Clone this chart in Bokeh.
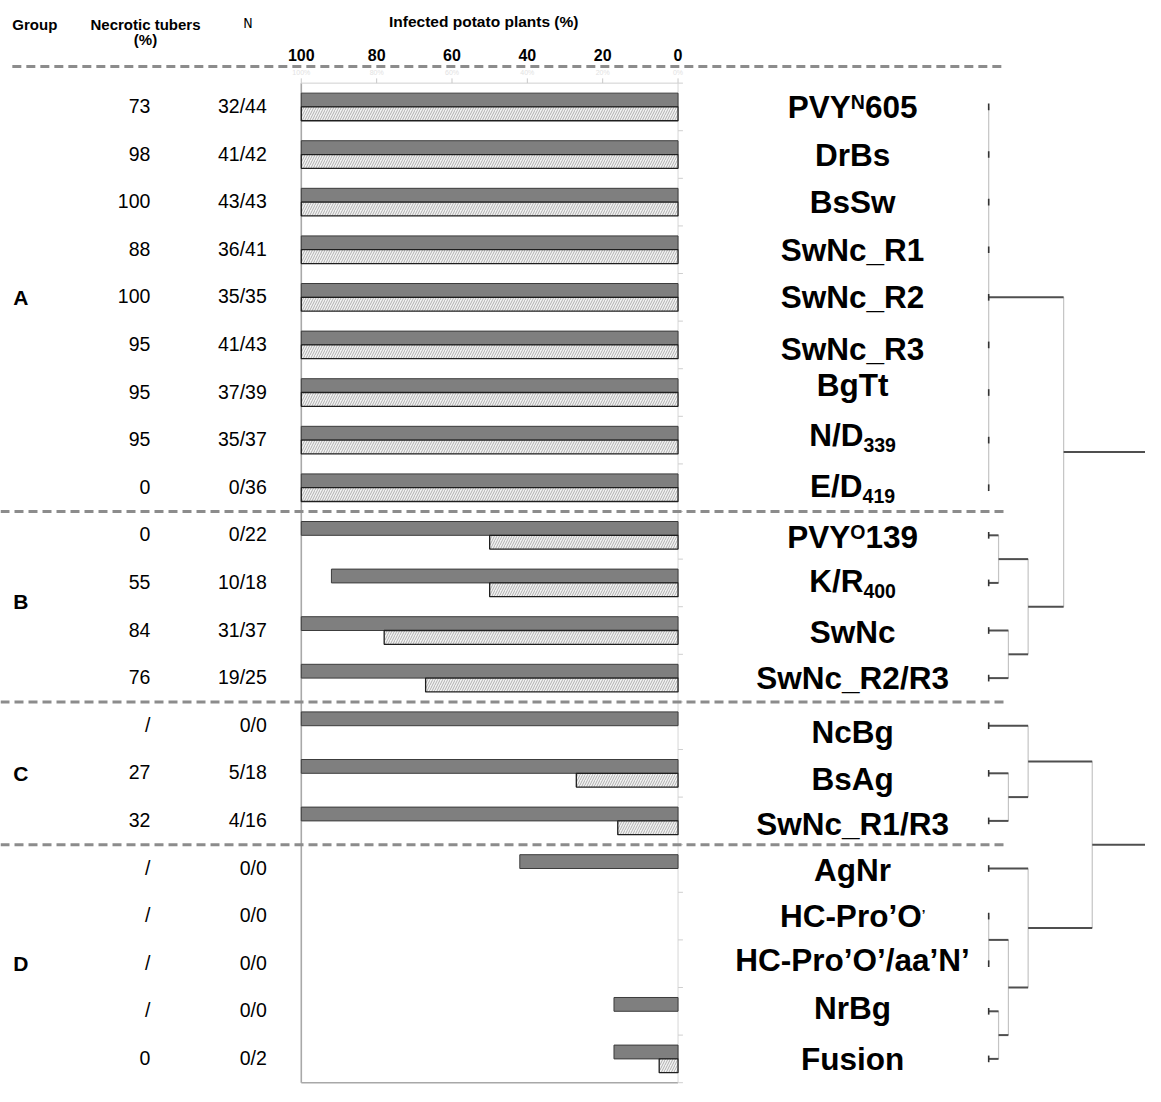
import numpy as np
from bokeh.plotting import figure
from bokeh.models import Range1d, ColumnDataSource
from bokeh.core.properties import value
from bokeh.embed import file_html
from bokeh.resources import INLINE

# ---------------- data ----------------
strains = ["PVY^{N}605", "DrBs", "BsSw", "SwNc_R1", "SwNc_R2", "SwNc_R3", "BgTt",
           "N/D_{339}", "E/D_{419}",
           "PVY^{O}139", "K/R_{400}", "SwNc", "SwNc_R2/R3",
           "NcBg", "BsAg", "SwNc_R1/R3",
           "AgNr", "HC-Pro\u2019O~{\u2019}", "HC-Pro\u2019O\u2019/aa\u2019N\u2019", "NrBg", "Fusion"]
group_names = ["A", "B", "C", "D"]
group_rows = [4, 10.4, 14, 18]          # row where each group letter sits
group_breaks = [8.5, 12.5, 15.5]        # separators between groups
necrotic = ["73", "98", "100", "88", "100", "95", "95", "95", "0",
            "0", "55", "84", "76",
            "/", "27", "32",
            "/", "/", "/", "/", "0"]
n_ratio = ["32/44", "41/42", "43/43", "36/41", "35/35", "41/43", "37/39", "35/37", "0/36",
           "0/22", "10/18", "31/37", "19/25",
           "0/0", "5/18", "4/16",
           "0/0", "0/0", "0/0", "0/0", "0/2"]
infected_dark = [100, 100, 100, 100, 100, 100, 100, 100, 100,
                 100, 92, 100, 100,
                 100, 100, 100,
                 42, 0, 0, 17, 17]
infected_hatched = [100, 100, 100, 100, 100, 100, 100, 100, 100,
                    50, 50, 78, 67,
                    0, 27, 16,
                    0, 0, 0, 0, 5]
x_ticks = [100, 80, 60, 40, 20, 0]
# dendrogram: (height, [children]) ; leaves are row indices
tree = (200, [
    (76, [(0, [0, 1, 2, 3, 4, 5, 6, 7, 8]),
          (40, [(10, [9, 10]), (20, [11, 12])])]),
    (105, [(40, [13, (20, [14, 15])]),
           (40, [16, (20, [(0, [17, 18]), (10, [19, 20])])])]),
])

# ---------------- layout helpers ----------------
FW, FH = 1145, 1086
SX = FW / 1161.0
ROWPX = 48.3
label_nudge = [0, 0, 0, 0, 0, 4, -8, -5, -2, 2, -2, 2, 0, 6, 6, 3, 2, 0, -4, -3, 0]

p = figure(width=FW, height=FH,
           x_range=Range1d(179.84, -124.08), y_range=Range1d(20.58, -2.236),
           output_backend="svg", toolbar_location=None, min_border=0,
           x_axis_location=None, y_axis_location=None, tools="")
p.outline_line_color = None
p.background_fill_color = "white"
p.border_fill_color = "white"
p.xgrid.visible = False
p.ygrid.visible = False
p.extra_x_ranges = {"px": Range1d(0, 1161), "dend": Range1d(-1002, 159)}
p.extra_y_ranges = {"py": Range1d(1102, 0)}

rows = list(range(len(strains)))

# ---------------- frame / axes ----------------
p.segment(x0=[100], y0=[-0.5], x1=[100], y1=[20.5], line_color="#a8a8a8", line_width=1.6)
p.segment(x0=[100], y0=[20.5], x1=[0], y1=[20.5], line_color="#a8a8a8", line_width=1.6)
p.segment(x0=[100], y0=[-0.5], x1=[0], y1=[-0.5], line_color="#d0d0d0", line_width=1)
p.segment(x0=x_ticks, y0=[-0.5] * 6, x1=x_ticks, y1=[-0.6] * 6, line_color="#c8c8c8", line_width=1)
p.segment(x0=[0], y0=[-0.5], x1=[0], y1=[20.5], line_color="#d6d6d6", line_width=1)
rb = [r + 0.5 for r in range(-1, len(strains))]
p.segment(x0=[0] * len(rb), y0=rb, x1=[-1.3] * len(rb), y1=rb, line_color="#cfcfcf", line_width=1)
# faint ghost tick labels beneath the top rule
p.text(x=x_ticks, y=[73] * 6, text=["%d%%" % t for t in x_ticks], y_range_name="py",
       text_font=value("Liberation Sans"), text_font_size="7px", text_color="#e2e2e2",
       text_align="center", text_baseline="middle")

# ---------------- bars ----------------
di = [i for i in rows if infected_dark[i] > 0]
p.hbar(y=[i - 0.145 for i in di], left=0, right=[infected_dark[i] for i in di], height=0.29,
       fill_color="#7f7f7f", line_color="#3c3c3c", line_width=1)
hi = [i for i in rows if infected_hatched[i] > 0]
p.hbar(y=[i + 0.145 for i in hi], left=0, right=[infected_hatched[i] for i in hi], height=0.29,
       fill_color="#f3f3f3", hatch_pattern="/", hatch_color="#a8a8a8", hatch_scale=5,
       hatch_weight=0.9, line_color="#1e1e1e", line_width=1.3)

# ---------------- dashed separators ----------------
p.segment(x0=[12], y0=[-0.85], x1=[1018], y1=[-0.85], x_range_name="px",
          line_color="#8c8c8c", line_width=3, line_dash="9 5")
p.segment(x0=[0] * 3, y0=group_breaks, x1=[1018] * 3, y1=group_breaks, x_range_name="px",
          line_color="#8c8c8c", line_width=3, line_dash="9 5")

# ---------------- header texts ----------------
ARIAL = value("Liberation Sans")
p.text(x=[12], y=[24], text=["Group"], x_range_name="px", y_range_name="py",
       text_font=ARIAL, text_font_style="bold", text_font_size="15px",
       text_align="left", text_baseline="middle", text_color="black")
p.text(x=[147, 147], y=[24, 40], text=["Necrotic tubers", "(%)"], x_range_name="px", y_range_name="py",
       text_font=ARIAL, text_font_style="bold", text_font_size="15px",
       text_align="center", text_baseline="middle", text_color="black")
p.text(x=[251], y=[23], text=["N"], x_range_name="px", y_range_name="py",
       text_font=value("DejaVu Sans Condensed"), text_font_size="14px",
       text_align="center", text_baseline="middle", text_color="black")
p.text(x=[490], y=[21], text=["Infected potato plants (%)"], x_range_name="px", y_range_name="py",
       text_font=ARIAL, text_font_style="bold", text_font_size="15.5px",
       text_align="center", text_baseline="middle", text_color="black")
p.text(x=x_ticks, y=[55] * 6, text=[str(t) for t in x_ticks], y_range_name="py",
       text_font=ARIAL, text_font_style="bold", text_font_size="16px",
       text_align="center", text_baseline="middle", text_color="black")

# ---------------- left columns ----------------
p.text(x=[13] * 4, y=group_rows, text=group_names, x_range_name="px",
       text_font=ARIAL, text_font_style="bold", text_font_size="21px",
       text_align="left", text_baseline="middle", text_color="black")
p.text(x=[152] * len(rows), y=[r - 0.02 for r in rows], text=necrotic, x_range_name="px",
       text_font=ARIAL, text_font_size="19.5px",
       text_align="right", text_baseline="middle", text_color="black")
p.text(x=[270] * len(rows), y=[r - 0.02 for r in rows], text=n_ratio, x_range_name="px",
       text_font=ARIAL, text_font_size="19.5px",
       text_align="right", text_baseline="middle", text_color="black")

# ---------------- strain labels with sup/sub ----------------
W = {" ": 278, "'": 238, "\u2019": 278, "-": 333, "/": 278, "_": 556,
     "A": 722, "B": 722, "C": 722, "D": 722, "E": 667, "F": 611, "G": 778, "H": 722,
     "K": 722, "N": 722, "O": 778, "P": 667, "R": 722, "S": 667, "T": 611, "V": 667,
     "W": 944, "Y": 667, "a": 556, "c": 556, "g": 611, "i": 278, "n": 611, "o": 611,
     "r": 389, "s": 556, "t": 333, "u": 611, "w": 778}
for d in "0123456789":
    W[d] = 556


def parse(s):
    segs, buf, i = [], "", 0
    while i < len(s):
        if s[i] in "^_~" and i + 1 < len(s) and s[i + 1] == "{":
            if buf:
                segs.append((buf, "n"))
                buf = ""
            j = s.index("}", i)
            segs.append((s[i + 2:j], {"^": "sup", "_": "sub", "~": "small"}[s[i]]))
            i = j + 1
        else:
            buf += s[i]
            i += 1
    if buf:
        segs.append((buf, "n"))
    return segs


LS = 31.5
XC = 864
lab = dict(x=[], y=[], text=[], size=[])
for k, s in enumerate(strains):
    segs = parse(s)
    info = []
    for t, kind in segs:
        size = {"n": LS, "sup": 0.62 * LS, "sub": 0.62 * LS, "small": 0.42 * LS}[kind]
        dy = {"n": 0, "sup": -0.17 * LS, "sub": 0.33 * LS, "small": -0.06 * LS}[kind]
        w = sum(W.get(c, 600) for c in t) / 1000.0 * size
        info.append((t, size, dy, w))
    total = sum(i[3] for i in info)
    x0 = XC - total / 2.0 / SX
    for t, size, dy, w in info:
        lab["x"].append(x0)
        lab["y"].append(k + (label_nudge[k] + dy) / ROWPX)
        lab["text"].append(t)
        lab["size"].append("%.1fpx" % size)
        x0 += w / SX
p.text(x="x", y="y", text="text", source=ColumnDataSource(lab), x_range_name="px",
       text_font=ARIAL, text_font_style="bold", text_font_size="size",
       text_align="left", text_baseline="middle", text_color="black")

# ---------------- dendrogram ----------------
hx0, hy0, hx1, hy1 = [], [], [], []
vx0, vy0, vx1, vy1 = [], [], [], []


def walk(node):
    if isinstance(node, int):
        return float(node), 0.0
    h, kids = node
    pos = [walk(c) for c in kids]
    for y, hc in pos:
        if h > hc:
            hx0.append(hc); hx1.append(h); hy0.append(y); hy1.append(y)
    ys = [y for y, _ in pos]
    vx0.append(h); vx1.append(h); vy0.append(min(ys)); vy1.append(max(ys))
    return (min(ys) + max(ys)) / 2.0, h


walk(tree)
p.segment(x0=vx0, y0=vy0, x1=vx1, y1=vy1, x_range_name="dend",
          line_color="#c4c4c4", line_width=1.2)
p.segment(x0=hx0, y0=hy0, x1=hx1, y1=hy1, x_range_name="dend",
          line_color="#4f4f4f", line_width=2)
p.segment(x0=[0] * len(rows), y0=[r - 0.07 for r in rows], x1=[0] * len(rows),
          y1=[r + 0.07 for r in rows], x_range_name="dend", line_color="#333333", line_width=1.6)

open("out.html", "w").write(file_html(p, INLINE))
